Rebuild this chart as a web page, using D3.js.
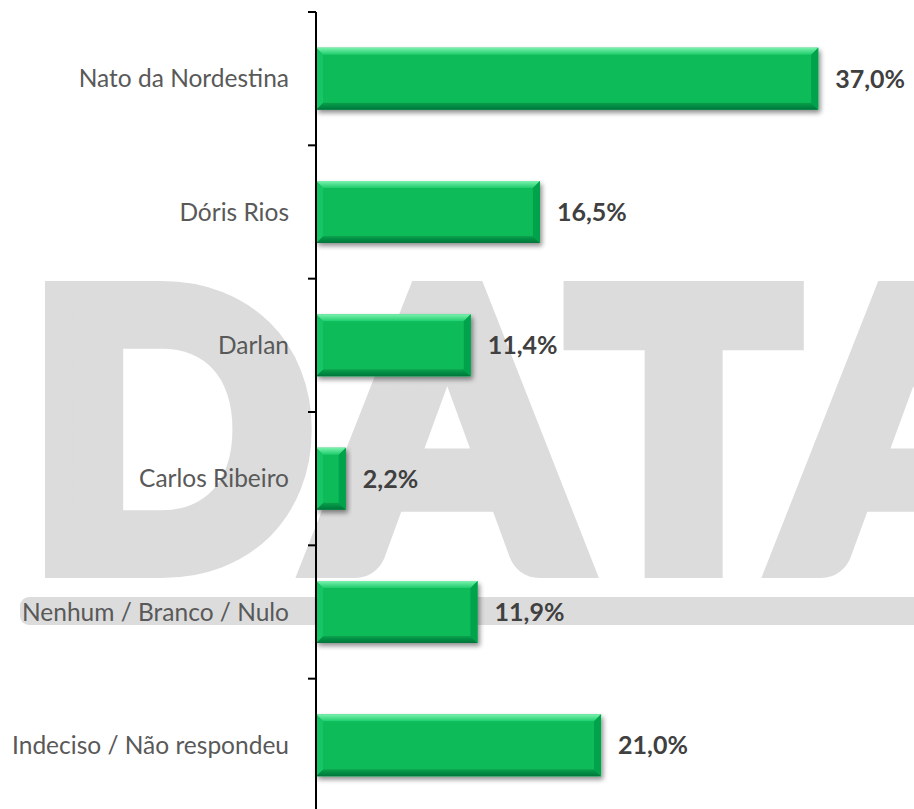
<!DOCTYPE html>
<html>
<head>
<meta charset="utf-8">
<script src="https://cdn.jsdelivr.net/npm/d3@7"></script>
<style>
  html, body { margin: 0; padding: 0; background: #ffffff; }
  svg { display: block; }
</style>
</head>
<body>
<svg id="chart" width="914" height="809"></svg>
<script>
// ---- data ----
const categories = ["Nato da Nordestina", "Dóris Rios", "Darlan", "Carlos Ribeiro", "Nenhum / Branco / Nulo", "Indeciso / Não respondeu"];
const values = [37.0, 16.5, 11.4, 2.2, 11.9, 21.0];
const valueLabels = ["37,0%", "16,5%", "11,4%", "2,2%", "11,9%", "21,0%"];
const watermarkText = "DATA";

// ---- layout ----
const W = 914, H = 809;
const axisX = 316;
const plotTop = 12, plotBottom = 812;
const svg = d3.select("#chart");

const x = d3.scaleLinear().domain([0, 40]).range([axisX, axisX + 543]);
const pad = 0.535;
const y = d3.scaleBand().domain(categories).range([plotTop, plotBottom]).paddingInner(pad).paddingOuter(pad / 2);

// ---- defs ----
const defs = svg.append("defs");
const sh = defs.append("filter").attr("id", "shadow").attr("x", "-10%").attr("y", "-20%").attr("width", "130%").attr("height", "160%");
sh.append("feGaussianBlur").attr("in", "SourceAlpha").attr("stdDeviation", 2.5).attr("result", "b");
sh.append("feOffset").attr("in", "b").attr("dx", 2).attr("dy", 3).attr("result", "o");
sh.append("feComponentTransfer").attr("in", "o").attr("result", "oa")
  .append("feFuncA").attr("type", "linear").attr("slope", 0.45);
const mg = sh.append("feMerge");
mg.append("feMergeNode").attr("in", "oa");
mg.append("feMergeNode").attr("in", "SourceGraphic");

const gTop = defs.append("linearGradient").attr("id", "gTop").attr("x1", 0).attr("y1", 0).attr("x2", 0).attr("y2", 1);
gTop.append("stop").attr("offset", "0%").attr("stop-color", "#7af2ae");
gTop.append("stop").attr("offset", "100%").attr("stop-color", "#1fcc6c");
const gBot = defs.append("linearGradient").attr("id", "gBot").attr("x1", 0).attr("y1", 0).attr("x2", 0).attr("y2", 1);
gBot.append("stop").attr("offset", "0%").attr("stop-color", "#07a24c");
gBot.append("stop").attr("offset", "100%").attr("stop-color", "#05753a");

// ---- watermark ----
svg.append("text")
  .attr("x", "29 318 572 784").attr("y", 564)
  .attr("font-family", "Lato, 'Open Sans', sans-serif")
  .attr("font-weight", 700)
  .attr("font-size", 372)
  .attr("fill", "#dcdcdc")
  .attr("stroke", "#dcdcdc")
  .attr("stroke-width", 28)
  .attr("stroke-linejoin", "miter")
  .text(watermarkText);

svg.append("rect")
  .attr("x", 20).attr("y", 597).attr("width", 920).attr("height", 28)
  .attr("rx", 9).attr("fill", "#dcdcdc");

// ---- bars ----
const bev = 7;
const bars = svg.append("g").selectAll("g").data(categories).join("g")
  .attr("filter", "url(#shadow)");

bars.each(function(c, i) {
  const g = d3.select(this);
  const x0 = x(0), x1 = x(values[i]);
  const y0 = y(c), y1 = y(c) + y.bandwidth();
  const b = Math.min(bev, (x1 - x0) / 2);
  g.append("rect").attr("x", x0).attr("y", y0).attr("width", x1 - x0).attr("height", y1 - y0).attr("fill", "#08bb58");
  g.append("path").attr("d", `M${x0},${y0}L${x1},${y0}L${x1 - b},${y0 + b}L${x0 + b},${y0 + b}Z`).attr("fill", "url(#gTop)");
  g.append("path").attr("d", `M${x0},${y1}L${x1},${y1}L${x1 - b},${y1 - b}L${x0 + b},${y1 - b}Z`).attr("fill", "url(#gBot)");
  g.append("path").attr("d", `M${x0},${y0}L${x0 + b},${y0 + b}L${x0 + b},${y1 - b}L${x0},${y1}Z`).attr("fill", "#16c566");
  g.append("path").attr("d", `M${x1},${y0}L${x1 - b},${y0 + b}L${x1 - b},${y1 - b}L${x1},${y1}Z`).attr("fill", "#06a24c");
});

// ---- value labels ----
svg.append("g").selectAll("text").data(categories).join("text")
  .attr("x", (c, i) => x(values[i]) + 17)
  .attr("y", c => y(c) + y.bandwidth() / 2)
  .attr("dy", "0.36em")
  .attr("font-family", "Lato, 'Open Sans', sans-serif")
  .attr("font-weight", 700)
  .attr("font-size", 25)
  .attr("fill", "#404040")
  .text((c, i) => valueLabels[i]);

// ---- category labels ----
svg.append("g").selectAll("text").data(categories).join("text")
  .attr("x", 289)
  .attr("y", c => y(c) + y.bandwidth() / 2)
  .attr("dy", "0.36em")
  .attr("text-anchor", "end")
  .attr("font-family", "Lato, 'Open Sans', sans-serif")
  .attr("font-size", 24.5)
  .attr("fill", "#595959")
  .text(c => c);

// ---- axis ----
const step = y.step();
const tickPos = d3.range(categories.length + 1).map(i => plotTop + i * step);
const ax = svg.append("g");
ax.append("line").attr("x1", axisX).attr("x2", axisX).attr("y1", plotTop).attr("y2", H + 5)
  .attr("stroke", "#000").attr("stroke-width", 2);
ax.selectAll("line.tick").data(tickPos).join("line").attr("class", "tick")
  .attr("x1", axisX - 8).attr("x2", axisX).attr("y1", d => d).attr("y2", d => d)
  .attr("stroke", "#000").attr("stroke-width", 2);
</script>
</body>
</html>
